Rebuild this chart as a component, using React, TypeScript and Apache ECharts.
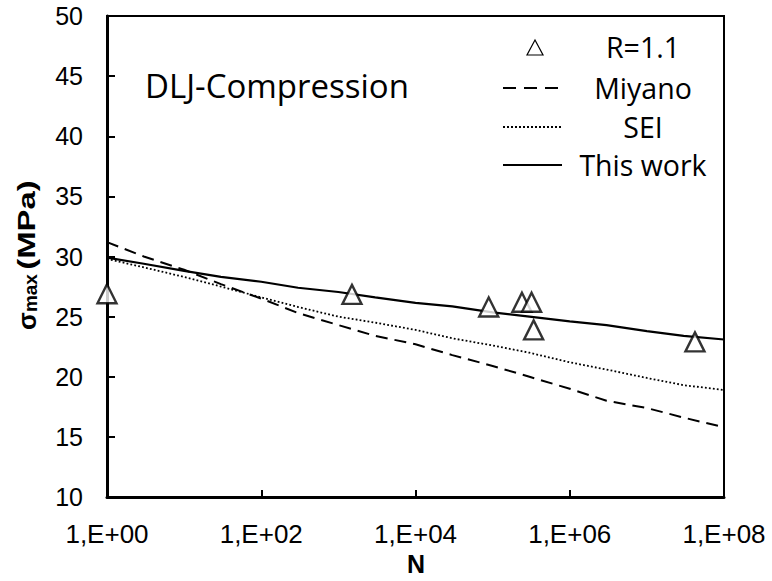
import React, { useEffect, useRef } from "react";
import * as echarts from "echarts";

// Cycles N (x) and stress values (y, MPa)
const curveN = [1, 3, 10, 30, 1e2, 3e2, 1e3, 3e3, 1e4, 3e4, 1e5, 3e5, 1e6, 3e6, 1e7, 3e7, 1e8];
const miyanoVals = [31.2, 30.0, 28.9, 27.7, 26.5, 25.3, 24.3, 23.4, 22.7, 21.8, 20.9, 20.0, 19.0, 18.0, 17.4, 16.6, 15.8];
const seiVals = [29.8, 29.1, 28.3, 27.5, 26.6, 25.8, 25.0, 24.5, 23.9, 23.2, 22.6, 22.0, 21.2, 20.6, 19.9, 19.3, 18.9];
const thisWorkVals = [29.9, 29.4, 28.8, 28.3, 27.9, 27.4, 27.05, 26.6, 26.15, 25.85, 25.35, 25.0, 24.6, 24.3, 23.8, 23.4, 23.1];

const expN = [1, 1500, 89000, 240000, 320000, 340000, 42000000];
const expVals = [26.9, 26.85, 25.8, 26.2, 26.2, 23.9, 22.9];

const yTicks = { min: 10, max: 50, interval: 5 };
const legendLabels = ["R=1.1", "Miyano", "SEI", "This work"];
const annotation = "DLJ-Compression";

const zip = (xs: number[], ys: number[]) => xs.map((x, i) => [x, ys[i]]);

export default function App() {
  const ref = useRef<HTMLDivElement>(null);
  useEffect(() => {
    document.body.style.margin = "0";
    const chart = echarts.init(ref.current!, null, { renderer: "svg" });
    const tickFont = "'Liberation Sans', Arial, sans-serif";
    const textFont = "'Open Sans', sans-serif";
    const legX = 643;
    const legendYs = [47, 87.5, 127, 165];
    chart.setOption({
      animation: false,
      backgroundColor: "#fff",
      grid: {
        left: 107,
        right: 48,
        top: 16,
        bottom: 84,
        show: true,
        borderColor: "#000",
        borderWidth: 2,
      },
      xAxis: {
        type: "log",
        logBase: 10,
        min: 1,
        max: 1e8,
        interval: 2,
        axisLine: { show: true, lineStyle: { color: "#000", width: 3 } },
        axisTick: { show: true, inside: true, length: 7, lineStyle: { color: "#000", width: 2 } },
        splitLine: { show: false },
        minorTick: { show: false },
        axisLabel: {
          color: "#000",
          fontFamily: tickFont,
          fontSize: 26,
          margin: 24,
          formatter: (v: number) => {
            const e = Math.round(Math.log10(v));
            return "1,E+" + String(e).padStart(2, "0");
          },
        },
      },
      yAxis: {
        type: "value",
        min: yTicks.min,
        max: yTicks.max,
        interval: yTicks.interval,
        axisLine: { show: true, lineStyle: { color: "#000", width: 3 } },
        axisTick: { show: true, inside: true, length: 8, lineStyle: { color: "#000", width: 2 } },
        splitLine: { show: false },
        axisLabel: { color: "#000", fontFamily: tickFont, fontSize: 25, margin: 24 },
      },
      series: [
        {
          name: "Miyano",
          type: "line",
          data: zip(curveN, miyanoVals),
          symbol: "none",
          lineStyle: { color: "#000", width: 2, type: [12, 7] },
        },
        {
          name: "SEI",
          type: "line",
          data: zip(curveN, seiVals),
          symbol: "none",
          lineStyle: { color: "#000", width: 1.8, type: [1.8, 2.2] },
        },
        {
          name: "This work",
          type: "line",
          data: zip(curveN, thisWorkVals),
          symbol: "none",
          lineStyle: { color: "#000", width: 2.2 },
        },
        {
          name: "R=1.1",
          type: "scatter",
          data: zip(expN, expVals),
          symbol: "triangle",
          symbolSize: [19, 19],
          clip: false,
          z: 5,
          itemStyle: { color: "#fff", borderColor: "#000", borderWidth: 2.4 },
        },
      ],
      graphic: [
        {
          type: "text",
          left: 145,
          top: 69,
          style: { text: annotation, font: `33px ${textFont}`, fill: "#000" },
        },
        {
          type: "polygon",
          shape: { points: [[535, 40], [527, 55], [543, 55]] },
          style: { fill: "#fff", stroke: "#000", lineWidth: 1.2 },
        },
        {
          type: "line",
          shape: { x1: 503, y1: 88, x2: 562, y2: 88 },
          style: { stroke: "#000", lineWidth: 2, lineDash: [13, 8] },
        },
        {
          type: "line",
          shape: { x1: 503, y1: 127, x2: 562, y2: 127 },
          style: { stroke: "#000", lineWidth: 2, lineDash: [2, 2] },
        },
        {
          type: "line",
          shape: { x1: 503, y1: 165, x2: 562, y2: 165 },
          style: { stroke: "#000", lineWidth: 2 },
        },
        ...legendLabels.map((t, i) => ({
          type: "text",
          x: legX,
          y: legendYs[i],
          style: {
            text: t,
            font: `28.5px ${textFont}`,
            fill: "#000",
            align: "center",
            verticalAlign: "middle",
          },
        })),
        {
          type: "text",
          x: 27,
          y: 225,
          rotation: Math.PI / 2,
          scaleX: 1.4,
          style: {
            text: "(MPa)",
            font: `bold 23.5px ${tickFont}`,
            fill: "#000",
            align: "center",
            verticalAlign: "middle",
          },
        },
        {
          type: "text",
          x: 26,
          y: 302,
          rotation: Math.PI / 2,
          style: {
            text: "{a|σ}{b|max}",
            align: "center",
            verticalAlign: "middle",
            fill: "#000",
            rich: {
              a: { fontFamily: tickFont, fontWeight: "bold", fontSize: 26, verticalAlign: "bottom", lineHeight: 28 },
              b: { fontFamily: tickFont, fontWeight: "bold", fontSize: 19, verticalAlign: "bottom", lineHeight: 25 },
            },
          },
        },
        {
          type: "text",
          x: 416,
          y: 564,
          style: {
            text: "N",
            font: `bold 25px ${tickFont}`,
            fill: "#000",
            align: "center",
            verticalAlign: "middle",
          },
        },
      ],
    });
    return () => chart.dispose();
  }, []);
  return <div ref={ref} style={{ width: 772, height: 581 }} />;
}
